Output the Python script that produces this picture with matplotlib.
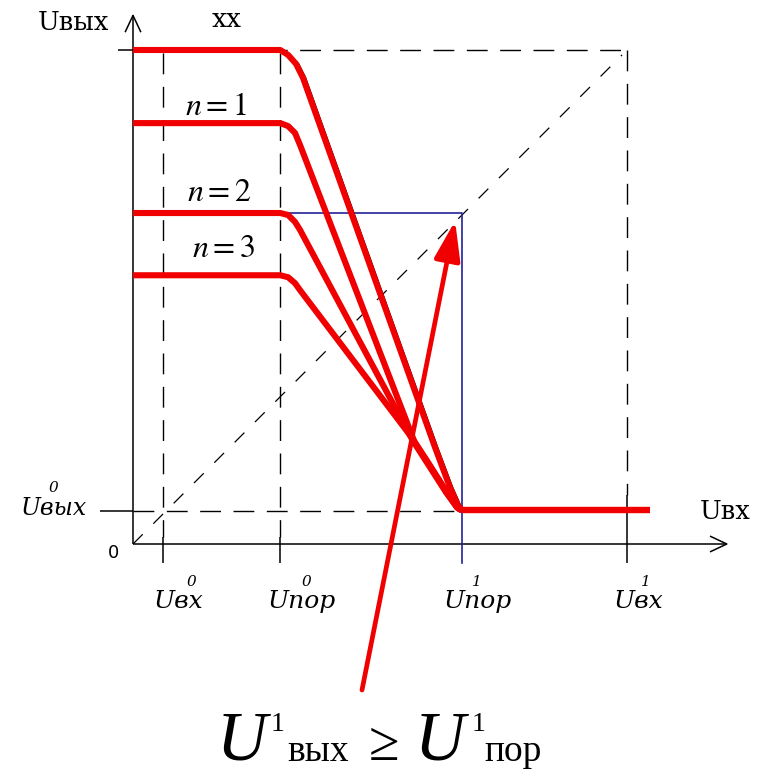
import numpy as np
import matplotlib.pyplot as plt

# Scale: pixels per volt, origin of the characteristic on the canvas
S = 98.8
X0, Y0 = 133, 544
W, H = 762, 777

# Characteristic levels (volts)
u_in0 = 0.30      # U_вх^0
u_por0 = 1.49     # U_пор^0
u_por1 = 3.33     # U_пор^1
u_in1 = 5.00      # U_вх^1
u_out0 = 0.33     # U_вых^0
u_out_xx = 5.00   # no-load output level
u_low = 0.34      # output low level

# Transfer curves U_вых(U_вх): idle (хх) and loaded by n gates
xx_x = [0.00, 1.49, 1.57, 1.65, 1.72, 3.06, 3.21, 3.29, 3.33]
xx_y = [5.00, 5.00, 4.95, 4.86, 4.72, 0.97, 0.57, 0.39, 0.34]
n1_x = [0.00, 1.49, 1.57, 1.64, 1.69, 2.85, 3.03, 3.19, 3.29, 3.33]
n1_y = [4.26, 4.26, 4.23, 4.16, 4.04, 1.03, 0.75, 0.50, 0.36, 0.34]
n2_x = [0.00, 1.49, 1.57, 1.64, 1.69, 2.83, 3.01, 3.17, 3.28, 3.33]
n2_y = [3.35, 3.35, 3.33, 3.26, 3.18, 1.05, 0.77, 0.52, 0.37, 0.34]
n3_x = [0.00, 1.49, 1.57, 1.64, 1.69, 2.82, 2.99, 3.16, 3.28, 3.33]
n3_y = [2.72, 2.72, 2.70, 2.64, 2.57, 1.08, 0.82, 0.55, 0.37, 0.34]
low_x = [3.33, 5.23]
n_labels = ['$n = 1$', '$n = 2$', '$n = 3$']
n_label_pos = [(0.53, 4.34), (0.55, 3.47), (0.60, 2.90)]

RED = '#f00000'
BLUE = '#23239a'


def px(xp, yp):
    return (xp - X0) / S, (Y0 - yp) / S


plt.rcParams['mathtext.fontset'] = 'stix'
fig = plt.figure(figsize=(W / 100, H / 100), dpi=100)
ax = fig.add_axes([0, 0, 1, 1])
ax.set_xlim(-X0 / S, (W - X0) / S)
ax.set_ylim((Y0 - H) / S, Y0 / S)
ax.axis('off')

k = dict(color='black', lw=1.1, solid_capstyle='butt')
dash = dict(color='black', lw=1.0, dashes=(15, 9))

# axes with open arrow heads
ax.plot([0, 0], [0, 5.35], **k)
ax.plot([-0.08, 0, 0.08], [5.18, 5.35, 5.18], **k)
ax.plot([0, 6.01], [0, 0], **k)
ax.plot([5.84, 6.01, 5.84], [0.08, 0, -0.08], **k)

# guide lines
ax.plot([-0.15, 0], [u_out_xx, u_out_xx], **k)
ax.plot([0, u_in1], [u_out_xx, u_out_xx], **dash)
ax.plot([-0.33, 0], [u_out0, u_out0], **k)
ax.plot([0, u_por1], [u_out0, u_out0], **dash)
for xv in (u_in0, u_por0):
    ax.plot([xv, xv], [u_out_xx - 0.03, 0.07], **dash)
    ax.plot([xv, xv], [-0.19, 0.07], **k)
ax.plot([u_in1, u_in1], [u_out_xx, 0.5], **dash)
ax.plot([u_in1, u_in1], [-0.19, 0.5], **k)
ax.plot([0, 4.95], [0, 4.95], color='black', lw=0.9, dashes=(11, 12))

# threshold rectangle
ax.plot([u_por0, u_por1, u_por1], [n2_y[0], n2_y[0], -0.19], color=BLUE, lw=1.2)

# transfer characteristics
for cx, cy in ((n3_x, n3_y), (n2_x, n2_y), (n1_x, n1_y)):
    ax.plot(cx, cy, color=RED, lw=4.4, solid_joinstyle='round', solid_capstyle='butt')
ax.plot(np.array(xx_x[3:]) + 0.025, xx_y[3:], color='black', lw=1.2)
ax.plot(xx_x, xx_y, color=RED, lw=4.4, solid_joinstyle='round', solid_capstyle='butt')
ax.plot(low_x, [u_low, u_low], color=RED, lw=4.6, solid_capstyle='butt')

# labels
serif = 'DejaVu Serif'
ax.text(*px(38, 30), 'Uвых', family=serif, fontsize=18.5, ha='left', va='baseline')
ax.text(*px(212, 27), 'хх', family=serif, fontsize=19, ha='left', va='baseline')
ax.text(*px(700, 519), 'Uвх', family=serif, fontsize=18.5, ha='left', va='baseline')
ax.text(*px(113, 553), '0', family='DejaVu Sans', fontsize=13, ha='center', va='center')
for lab, (lx, ly) in zip(n_labels, n_label_pos):
    ax.text(lx, ly, lab, fontsize=23, ha='left', va='baseline')

ital = dict(family=serif, style='italic', ha='left', va='baseline')
ax.text(*px(21, 515), 'Uвых', fontsize=17, **ital)
ax.text(*px(49, 492), '0', fontsize=11, **ital)
bottom = [(u_in0, 'Uвх', '0', -9, 24), (u_por0, 'Uпор', '0', -13, 21),
          (u_por1, 'Uпор', '1', -18, 10), (u_in1, 'Uвх', '1', -13, 14)]
for xv, main, sup, dx, sdx in bottom:
    ax.text(xv + dx / S, (Y0 - 608) / S, main, fontsize=18, **ital)
    ax.text(xv + sdx / S, (Y0 - 586) / S, sup, fontsize=11, **ital)

# arrow pointing at U_вых^1 = U_пор^1
ax.annotate('', xy=(3.26, 3.27), xytext=px(362, 690),
            arrowprops=dict(arrowstyle='-|>,head_length=24,head_width=8',
                            mutation_scale=1, color=RED, lw=3.4,
                            shrinkA=0, shrinkB=0))

# condition under the chart
tnr = 'Liberation Serif'
ax.text(*px(217, 760), 'U', family=tnr, style='italic', fontsize=50, ha='left', va='baseline')
ax.text(*px(271, 731), '1', family=tnr, fontsize=20, ha='left', va='baseline')
ax.text(*px(287, 761), 'вых', family=tnr, fontsize=27, ha='left', va='baseline')
ax.text(*px(369, 760), '≥', family=tnr, fontsize=40, ha='left', va='baseline')
ax.text(*px(415, 760), 'U', family=tnr, style='italic', fontsize=50, ha='left', va='baseline')
ax.text(*px(472, 731), '1', family=tnr, fontsize=20, ha='left', va='baseline')
ax.text(*px(484, 761), 'пор', family=tnr, fontsize=27, ha='left', va='baseline')

fig.savefig('out.png', dpi=100, facecolor='white')
